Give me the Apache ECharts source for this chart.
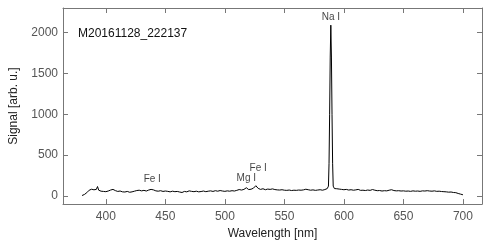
<!DOCTYPE html>
<html><head><meta charset="utf-8">
<script src="https://cdn.jsdelivr.net/npm/echarts@6/dist/echarts.min.js"></script>
<style>html,body{margin:0;padding:0;background:#fff}#c{width:491px;height:245px}</style>
</head><body><div id="c"></div>
<script>
const wavelengths = [380,382,384,386,388,390,392,393,394,396,398,400,402,404,406,408,410,412,414,416,418,420,422,424,426,428,430,432,434,436,438,440,442,444,446,448,450,452,454,456,458,460,462,464,466,468,470,472,474,476,478,480,482,484,486,488,490,492,494,496,498,500,502,504,506,508,510,512,514,516,518,520,522,524,526,528,530,532,534,536,538,540,542,544,546,548,550,552,554,556,558,560,562,564,566,568,570,572,574,576,578,580,582,584,586,587,587.5,588,588.5,589,589.5,590,590.5,591,592,594,596,598,600,602,604,606,608,610,612,614,616,618,620,622,624,626,628,630,632,634,636,638,640,642,644,646,648,650,652,654,656,658,660,662,664,666,668,670,672,674,676,678,680,682,684,686,688,690,692,694,696,698,700];
const signal = [5,18,40,70,82,75,80,115,70,58,55,52,60,72,80,65,55,60,50,48,55,45,50,58,66,70,62,68,60,72,80,74,62,58,64,55,60,56,50,58,52,55,48,42,55,50,62,56,52,58,50,54,60,52,58,62,55,64,58,66,60,56,62,58,64,60,68,78,72,80,100,78,82,95,125,92,80,88,76,84,80,86,78,74,72,76,70,68,72,66,70,68,72,70,74,82,76,70,74,68,72,76,70,78,90,120,400,1000,1700,2090,1700,1000,400,120,90,88,84,80,76,80,72,76,70,74,80,68,70,66,72,68,78,70,64,66,60,64,62,70,76,66,62,64,60,62,58,60,56,62,58,60,56,62,60,64,60,58,62,56,58,54,52,50,46,48,42,40,30,22,14];
const lineLabels = ['Na I','Fe I','Mg I','Fe I'];
const lineLabelX = [589,439,518,528];
const lineLabelY = [2185,200,215,335];
const xTicks = [400,450,500,550,600,650,700];
const yTicks = [0,500,1000,1500,2000];
const title = 'M20161128_222137';

const chart = echarts.init(document.getElementById('c'), null, {renderer:'canvas'});
const font = "'Liberation Sans', Arial, Helvetica, sans-serif";
const axisCol = '#777';
function xAxis(pos, labels){
  return {type:'value', position:pos, min:364, max:716,
    axisLine:{show:true, onZero:false, lineStyle:{color:axisCol, width:1}},
    axisTick:{show:true, inside:true, length:5, customValues:xTicks, lineStyle:{color:axisCol}},
    axisLabel:{show:labels, customValues:xTicks, formatter:v=>String(v), color:'#555', fontSize:12, fontFamily:font, margin:7},
    splitLine:{show:false},
    name: labels ? 'Wavelength [nm]' : '', nameLocation:'middle', nameGap:22,
    nameTextStyle:{color:'#222', fontSize:12, fontFamily:font}};
}
function yAxis(pos, labels){
  return {type:'value', position:pos, min:-100, max:2300,
    axisLine:{show:true, onZero:false, lineStyle:{color:axisCol, width:1}},
    axisTick:{show:true, inside:true, length:5, customValues:yTicks, lineStyle:{color:axisCol}},
    axisLabel:{show:labels, customValues:yTicks, formatter:v=>String(v), color:'#555', fontSize:12, fontFamily:font, margin:5},
    splitLine:{show:false},
    name: labels ? 'Signal [arb. u.]' : '', nameLocation:'middle', nameGap:43,
    nameTextStyle:{color:'#222', fontSize:12, fontFamily:font}};
}
chart.setOption({
  animation:false,
  grid:{left:51, right:9, top:8, bottom:36, containLabel:false},
  xAxis:[xAxis('bottom', true), xAxis('top', false)],
  yAxis:[yAxis('left', true), yAxis('right', false)],
  graphic:[{type:'text', left:78, top:28, style:{text:title, fill:'#111', fontSize:12, fontFamily:font}}],
  series:[
    {type:'line', data:wavelengths.map((w,i)=>[w, signal[i]]), showSymbol:false, symbol:'none',
     lineStyle:{color:'#000', width:1}, z:3},
    {type:'scatter', data:lineLabels.map((n,i)=>({name:n, value:[lineLabelX[i], lineLabelY[i]]})),
     symbolSize:1, itemStyle:{color:'rgba(0,0,0,0)'}, silent:true,
     label:{show:true, position:'inside', formatter:p=>p.name, color:'#111', fontSize:10, fontFamily:font}, z:4}
  ]
});
</script></body></html>
